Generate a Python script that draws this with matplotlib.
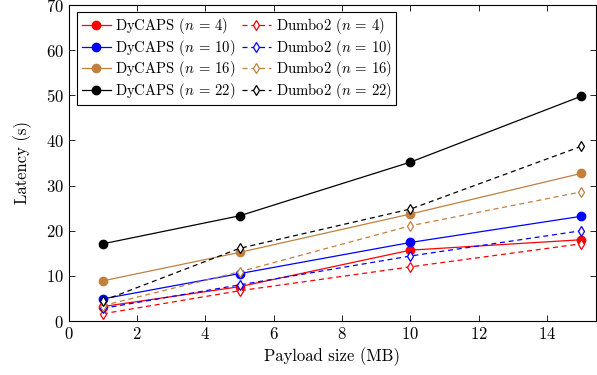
import matplotlib
matplotlib.use("Agg")
import matplotlib.pyplot as plt

plt.rcParams['font.family'] = 'serif'
plt.rcParams['font.serif'] = ['cmr10', 'DejaVu Serif']
plt.rcParams['mathtext.fontset'] = 'cm'
plt.rcParams['axes.formatter.use_mathtext'] = True

# Payload size (MB)
payload = [1, 5, 10, 15]
nodes = [4, 10, 16, 22]
colors = ['#ff0000', '#0000ff', '#bf8040', '#000000']

# Latency (s)
dycaps = [
    [3.2, 7.6, 15.7, 18.0],
    [4.9, 10.5, 17.4, 23.2],
    [8.9, 15.2, 23.7, 32.7],
    [17.1, 23.3, 35.2, 49.8],
]
dumbo2 = [
    [1.6, 6.7, 12.0, 17.1],
    [2.8, 8.0, 14.4, 20.0],
    [3.4, 10.9, 21.1, 28.6],
    [4.5, 16.1, 24.8, 38.7],
]


def main():
    fig = plt.figure(figsize=(5.97, 3.75), dpi=100)
    ax = fig.add_axes([68.7 / 597, 54 / 375, 527 / 597, 316 / 375])

    handles = []
    for n, c, ys in zip(nodes, colors, dycaps):
        h, = ax.plot(payload, ys, '-', color=c, lw=0.9, marker='o', ms=6,
                     label=f'DyCAPS ($n$ = {n})')
        handles.append(h)
    for n, c, ys in zip(nodes, colors, dumbo2):
        h, = ax.plot(payload, ys, '--', color=c, lw=0.9, marker='d', ms=5,
                     mfc='white', mew=0.9, dashes=(4, 3),
                     label=f'Dumbo2 ($n$ = {n})')
        handles.append(h)

    ax.set_xlim(0, 15.42)
    ax.set_ylim(0, 70)
    ax.set_xticks([0, 2, 4, 6, 8, 10, 12, 14])
    ax.set_yticks(range(0, 71, 10))
    ax.tick_params(direction='in', top=True, right=True, length=4,
                   width=0.6, labelsize=12)
    for s in ax.spines.values():
        s.set_linewidth(0.8)

    ax.set_xlabel('Payload size (MB)', fontsize=12)
    ax.set_ylabel('Latency (s)', fontsize=12, labelpad=10)

    leg = ax.legend(handles=handles, ncol=2, loc='upper left',
                    bbox_to_anchor=(0.016, 0.978), borderaxespad=0,
                    fontsize=10.6, fancybox=False, edgecolor='black',
                    framealpha=1, handlelength=2.0, handletextpad=0.3,
                    columnspacing=0.4, labelspacing=0.1, borderpad=0.3)
    leg.get_frame().set_linewidth(0.8)

    fig.savefig('out.png', dpi=100)


if __name__ == "__main__":
    main()
